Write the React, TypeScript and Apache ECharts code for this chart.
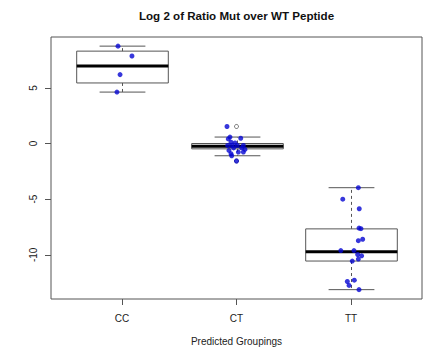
import React, { useEffect, useRef } from "react";
import * as echarts from "echarts";

const categories = ["CC", "CT", "TT"];
const yTicks = [-10, -5, 0, 5];
const xTicks = [1, 2, 3];

// box statistics per group (lower whisker, Q1, median, Q3, upper whisker)
const boxLower = [4.62, -1.1, -13.13];
const boxQ1 = [5.44, -0.48, -10.56];
const boxMedian = [6.97, -0.24, -9.73];
const boxQ3 = [8.3, 0.0, -7.67];
const boxUpper = [8.75, 0.58, -3.97];

// boxplot outliers
const outlierGroup = [2, 2];
const outlierValues = [1.53, -1.57];

// jittered strip points
const ccX = [0.965, 1.087, 0.983, 0.956];
const ccY = [8.75, 7.86, 6.19, 4.62];
const ctX = [1.917, 1.943, 1.928, 2.037, 1.952, 1.987, 1.923, 1.958, 2.007, 2.06, 1.975, 2.045, 2.074, 1.934, 2.016, 2.06, 1.952, 1.958, 2.0];
const ctY = [1.53, 0.58, 0.41, 0.47, 0.12, 0.05, -0.18, -0.18, -0.18, -0.18, -0.39, -0.39, -0.53, -0.62, -0.77, -0.77, -0.92, -1.1, -1.57];
const ttX = [3.064, 2.928, 3.072, 3.07, 3.087, 3.102, 3.064, 2.911, 3.026, 3.058, 3.093, 3.064, 3.011, 3.029, 2.968, 2.983, 3.07];
const ttY = [-3.97, -5.0, -5.86, -7.6, -7.65, -8.6, -8.73, -9.62, -9.62, -9.97, -10.09, -10.38, -10.56, -12.28, -12.4, -12.75, -13.13];

const FONT = '"Liberation Sans", Arial, sans-serif';

export default function App() {
  const ref = useRef<HTMLDivElement>(null);
  useEffect(() => {
    if (!ref.current) return;
    const chart = echarts.init(ref.current, undefined, { renderer: "svg" });
    const boxData = categories.map((_, i) => [i + 1, boxLower[i], boxQ1[i], boxMedian[i], boxQ3[i], boxUpper[i]]);
    const points: number[][] = [];
    ccX.forEach((x, i) => points.push([x, ccY[i]]));
    ctX.forEach((x, i) => points.push([x, ctY[i]]));
    ttX.forEach((x, i) => points.push([x, ttY[i]]));
    const outliers = outlierGroup.map((g, i) => [g, outlierValues[i]]);
    const lineCol = "#555";
    chart.setOption({
      animation: false,
      backgroundColor: "#fff",
      textStyle: { fontFamily: FONT },
      graphic: [
        {
          type: "text",
          x: 236.5,
          y: 15,
          style: {
            text: "Log 2 of Ratio Mut over WT Peptide",
            textAlign: "center",
            textVerticalAlign: "middle",
            font: 'bold 11.6px "Liberation Sans", Arial, sans-serif',
            fill: "#111",
          },
        },
      ],
      grid: { left: 51, right: 4, top: 37, bottom: 48, show: true, borderColor: lineCol, borderWidth: 1, backgroundColor: "transparent" },
      xAxis: {
        type: "value",
        min: 0.38,
        max: 3.62,
        axisLine: { show: false, onZero: false },
        splitLine: { show: false },
        axisTick: { show: true, customValues: xTicks, length: 6, lineStyle: { color: lineCol } },
        axisLabel: {
          customValues: xTicks,
          formatter: (v: number) => categories[Math.round(v) - 1] ?? "",
          margin: 14,
          fontSize: 10,
          color: "#222",
          fontFamily: FONT,
        },
        name: "Predicted Groupings",
        nameLocation: "middle",
        nameGap: 37,
        nameTextStyle: { fontSize: 10, color: "#222", fontFamily: FONT },
      },
      yAxis: {
        type: "value",
        min: -13.97,
        max: 9.57,
        axisLine: { show: false, onZero: false },
        splitLine: { show: false },
        axisTick: { show: true, customValues: yTicks, length: 6, lineStyle: { color: lineCol } },
        axisLabel: {
          customValues: yTicks,
          rotate: 90,
          margin: 13,
          fontSize: 10,
          color: "#222",
          fontFamily: FONT,
        },
      },
      series: [
        {
          type: "custom",
          z: 2,
          data: boxData,
          encode: { x: 0, y: [1, 2, 3, 4, 5] },
          renderItem: (params: any, api: any) => {
            const x = api.value(0);
            const lo = api.coord([x, api.value(1)]);
            const q1 = api.coord([x, api.value(2)]);
            const med = api.coord([x, api.value(3)]);
            const q3 = api.coord([x, api.value(4)]);
            const hi = api.coord([x, api.value(5)]);
            const half = api.size([0.4, 0])[0];
            const staple = api.size([0.2, 0])[0];
            const cx = Math.round(q1[0]) + 0.5;
            const st = { stroke: lineCol, lineWidth: 1, fill: null };
            const dash = { stroke: lineCol, lineWidth: 1, lineDash: [3, 3], fill: null };
            return {
              type: "group",
              children: [
                { type: "line", shape: { x1: cx, y1: q3[1], x2: cx, y2: hi[1] }, style: dash },
                { type: "line", shape: { x1: cx, y1: q1[1], x2: cx, y2: lo[1] }, style: dash },
                { type: "line", shape: { x1: cx - staple, y1: hi[1], x2: cx + staple, y2: hi[1] }, style: st },
                { type: "line", shape: { x1: cx - staple, y1: lo[1], x2: cx + staple, y2: lo[1] }, style: st },
                { type: "rect", shape: { x: cx - half, y: q3[1], width: half * 2, height: q1[1] - q3[1] }, style: { stroke: lineCol, lineWidth: 1, fill: "rgba(0,0,0,0)" } },
                { type: "line", shape: { x1: cx - half, y1: med[1], x2: cx + half, y2: med[1] }, style: { stroke: "#000", lineWidth: 3 } },
              ],
            };
          },
        },
        {
          type: "scatter",
          z: 3,
          data: outliers,
          symbol: "circle",
          symbolSize: 4,
          itemStyle: { color: "rgba(255,255,255,0)", borderColor: "#222", borderWidth: 0.8 },
        },
        {
          type: "scatter",
          z: 4,
          data: points,
          symbol: "circle",
          symbolSize: 5,
          itemStyle: { color: "#0505d2" },
        },
      ],
    });
    return () => chart.dispose();
  }, []);
  return <div ref={ref} style={{ width: 426, height: 351, position: "absolute", left: 0, top: 0 }} />;
}
